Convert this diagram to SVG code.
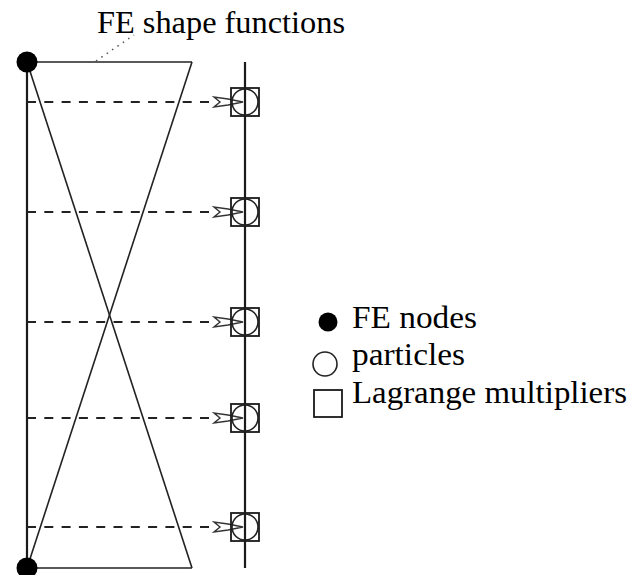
<svg xmlns="http://www.w3.org/2000/svg" width="630" height="575" viewBox="0 0 630 575">
<style>
.ln{stroke:#1a1a1a;stroke-width:2.2;fill:none}
.thin{stroke:#222;stroke-width:1.6;fill:none}
.dash{stroke:#222;stroke-width:1.8;fill:none;stroke-dasharray:9 8.3}
.ah{fill:#fff;stroke:#333;stroke-width:1.4;stroke-linejoin:miter}
.sq{fill:none;stroke:#1a1a1a;stroke-width:1.8}
.pc{fill:none;stroke:#222;stroke-width:1.6}
.fe{fill:#000}
.t{font-family:'Liberation Serif','Times New Roman',serif;font-size:31px;fill:#000}
</style>
<defs>
<path id="ah" class="ah" d="M0,0 L-15,-3 L-29,-5 L-23,0 L-29,5 L-15,3 Z"/>
<g id="pt">
<rect class="sq" x="-14" y="-14" width="28" height="28"/>
<circle class="pc" r="13"/>
</g>
</defs>
<rect width="630" height="575" fill="#fff"/>
<g id="frame">
<line class="ln" x1="27" y1="62" x2="27" y2="568"/>
<line class="ln" x1="245" y1="62" x2="245" y2="568"/>
<line class="thin" x1="27" y1="62" x2="192" y2="62"/>
<line class="thin" x1="27" y1="568" x2="192" y2="568"/>
<line class="thin" x1="192" y1="62" x2="27" y2="568"/>
<line class="thin" x1="27" y1="62" x2="192" y2="568"/>
</g>
<g id="connectors">
<line class="dash" x1="27" y1="102" x2="212" y2="102"/>
<line class="dash" x1="27" y1="212" x2="212" y2="212"/>
<line class="dash" x1="27" y1="322" x2="212" y2="322"/>
<line class="dash" x1="27" y1="418" x2="212" y2="418"/>
<line class="dash" x1="27" y1="527" x2="212" y2="527"/>
<use href="#ah" x="243" y="102"/>
<use href="#ah" x="243" y="212"/>
<use href="#ah" x="243" y="322"/>
<use href="#ah" x="243" y="418"/>
<use href="#ah" x="243" y="527"/>
<line x1="96" y1="61" x2="134" y2="35" stroke="#555" stroke-width="1.5" stroke-dasharray="1.5 5"/>
</g>
<g id="particle1"><use href="#pt" x="245" y="102"/></g>
<g id="particle2"><use href="#pt" x="245" y="212"/></g>
<g id="particle3"><use href="#pt" x="245" y="322"/></g>
<g id="particle4"><use href="#pt" x="245" y="418"/></g>
<g id="particle5"><use href="#pt" x="245" y="527"/></g>
<g id="node-top"><circle class="fe" cx="27" cy="62" r="10.5"/></g>
<g id="node-bottom"><circle class="fe" cx="27" cy="568" r="10.5"/></g>
<g id="title"><text class="t" x="97" y="33" textLength="248" lengthAdjust="spacingAndGlyphs">FE shape functions</text></g>
<g id="legend">
<circle class="fe" cx="328" cy="322" r="9.5"/>
<text class="t" x="352" y="328" textLength="125" lengthAdjust="spacingAndGlyphs">FE nodes</text>
<circle class="pc" cx="325" cy="364" r="12"/>
<text class="t" x="352" y="365" textLength="113" lengthAdjust="spacingAndGlyphs">particles</text>
<rect class="sq" x="314" y="390" width="28" height="27"/>
<text class="t" x="352" y="403" textLength="275" lengthAdjust="spacingAndGlyphs">Lagrange multipliers</text>
</g>
</svg>
